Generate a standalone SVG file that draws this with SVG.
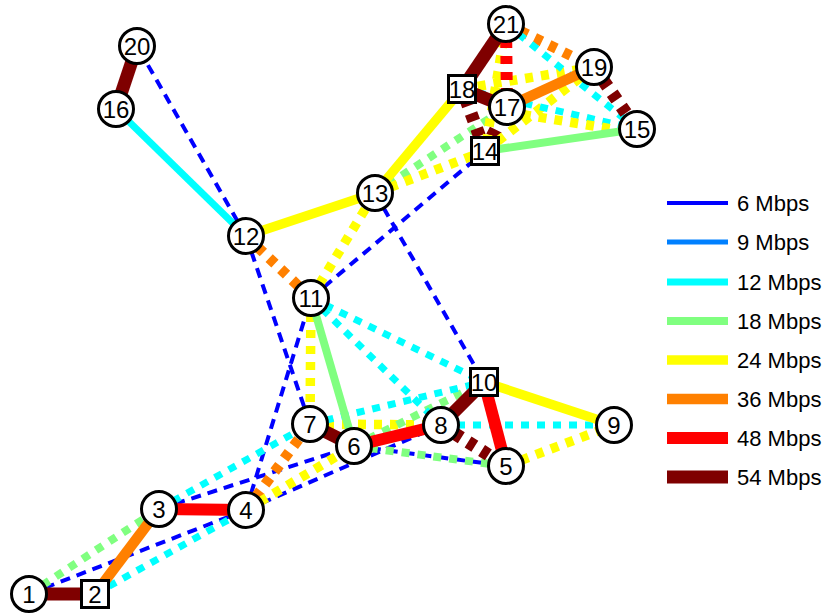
<svg xmlns="http://www.w3.org/2000/svg" width="828" height="613" viewBox="0 0 828 613">
<style>
line{fill:none;stroke-linecap:butt}
.r6{stroke:#0000ff;stroke-width:4}
.r9{stroke:#0080ff;stroke-width:5}
.r12{stroke:#00ffff;stroke-width:7}
.r18{stroke:#80ff80;stroke-width:8}
.r24{stroke:#ffff00;stroke-width:9.5}
.r36{stroke:#ff8000;stroke-width:10.5}
.r48{stroke:#ff0000;stroke-width:12}
.r54{stroke:#7f0000;stroke-width:13}
.dot{stroke-dasharray:8 8}
.dash{stroke-dasharray:10 7}
.node circle{fill:#fff;stroke:#000;stroke-width:3}
.node rect{fill:#fff;stroke:#000;stroke-width:3}
.node text{font-family:"Liberation Sans",Arial,sans-serif;font-size:24px;text-anchor:middle;fill:#000}
.legend text{font-family:"Liberation Sans",Arial,sans-serif;font-size:22px;fill:#000}
</style>
<rect width="828" height="613" fill="#fff"/>
<g id="connectors">
<!-- dashed 6 Mbps -->
<line class="r6 dash" x1="29" y1="594" x2="246" y2="510"/>
<line class="r6 dash" x1="159" y1="509" x2="354" y2="446"/>
<line class="r6 dash" x1="246" y1="510" x2="441" y2="425"/>
<line class="r6 dash" x1="354" y1="446" x2="506" y2="466"/>
<line class="r6 dash" x1="246" y1="510" x2="311" y2="298"/>
<line class="r6 dash" x1="246" y1="236" x2="310" y2="424"/>
<line class="r6 dash" x1="246" y1="236" x2="137" y2="46"/>
<line class="r6 dash" x1="311" y1="298" x2="485" y2="151"/>
<line class="r6 dash" x1="375" y1="193" x2="484" y2="382"/>
<!-- dotted -->
<line class="r18 dot" x1="29" y1="594" x2="159" y2="509"/>
<line class="r12 dot" x1="95" y1="594" x2="246" y2="510"/>
<line class="r12 dot" x1="159" y1="509" x2="310" y2="424"/>
<line class="r36 dot" x1="246" y1="510" x2="310" y2="424"/>
<line class="r24 dot" x1="246" y1="510" x2="354" y2="446"/>
<line class="r24 dot" x1="310" y1="424" x2="441" y2="425"/>
<line class="r18 dot" x1="354" y1="446" x2="484" y2="382"/>
<line class="r18 dot" x1="354" y1="446" x2="506" y2="466"/>
<line class="r12 dot" x1="310" y1="424" x2="484" y2="382"/>
<line class="r12 dot" x1="311" y1="298" x2="484" y2="382"/>
<line class="r12 dot" x1="311" y1="298" x2="441" y2="425"/>
<line class="r24 dot" x1="311" y1="298" x2="310" y2="424"/>
<line class="r12 dot" x1="441" y1="425" x2="614" y2="425"/>
<line class="r54 dot" x1="441" y1="425" x2="506" y2="466"/>
<line class="r24 dot" x1="506" y1="466" x2="614" y2="425"/>
<line class="r36 dot" x1="246" y1="236" x2="311" y2="298"/>
<line class="r24 dot" x1="311" y1="298" x2="375" y2="193"/>
<line class="r18 dot" x1="375" y1="193" x2="507" y2="107"/>
<line class="r24 dot" x1="375" y1="193" x2="485" y2="151"/>
<line class="r54 dot" x1="485" y1="151" x2="462" y2="89"/>
<line class="r54 dot" x1="485" y1="151" x2="507" y2="107"/>
<line class="r24 dot" x1="485" y1="151" x2="594" y2="67"/>
<line class="r24 dot" x1="506" y1="24" x2="485" y2="151"/>
<line class="r24 dot" x1="462" y1="89" x2="594" y2="67"/>
<line class="r12 dot" x1="462" y1="89" x2="637" y2="129"/>
<line class="r24 dot" x1="507" y1="112" x2="637" y2="133"/>
<line class="r48 dot" x1="506" y1="24" x2="507" y2="107"/>
<line class="r36 dot" x1="506" y1="24" x2="594" y2="67"/>
<line class="r12 dot" x1="506" y1="24" x2="637" y2="129"/>
<line class="r54 dot" x1="594" y1="67" x2="637" y2="129"/>
<!-- solid -->
<line class="r54" x1="29" y1="594" x2="95" y2="594"/>
<line class="r36" x1="95" y1="594" x2="159" y2="509"/>
<line class="r48" x1="159" y1="509" x2="246" y2="510"/>
<line class="r54" x1="310" y1="424" x2="354" y2="446"/>
<line class="r48" x1="354" y1="446" x2="441" y2="425"/>
<line class="r54" x1="441" y1="425" x2="484" y2="382"/>
<line class="r48" x1="484" y1="382" x2="506" y2="466"/>
<line class="r24" x1="484" y1="382" x2="614" y2="425"/>
<line class="r18" x1="311" y1="298" x2="354" y2="446"/>
<line class="r24" x1="246" y1="236" x2="375" y2="193"/>
<line class="r12" x1="246" y1="236" x2="116" y2="109"/>
<line class="r54" x1="116" y1="109" x2="137" y2="46"/>
<line class="r24" x1="375" y1="193" x2="462" y2="89"/>
<line class="r54" x1="462" y1="89" x2="506" y2="24"/>
<line class="r54" x1="462" y1="89" x2="507" y2="107"/>
<line class="r36" x1="507" y1="107" x2="594" y2="67"/>
<line class="r18" x1="485" y1="151" x2="637" y2="129"/>
</g>
<g id="n1" class="node"><circle cx="29" cy="594" r="17.5"/><text x="29" y="602.5">1</text></g>
<g id="n2" class="node"><rect x="81.5" y="580.5" width="27" height="27"/><text x="95" y="602.5">2</text></g>
<g id="n3" class="node"><circle cx="159" cy="509" r="17.5"/><text x="159" y="517.5">3</text></g>
<g id="n4" class="node"><circle cx="246" cy="510" r="17.5"/><text x="246" y="518.5">4</text></g>
<g id="n5" class="node"><circle cx="506" cy="466" r="17.5"/><text x="506" y="474.5">5</text></g>
<g id="n6" class="node"><circle cx="354" cy="446" r="17.5"/><text x="354" y="454.5">6</text></g>
<g id="n7" class="node"><circle cx="310" cy="424" r="17.5"/><text x="310" y="432.5">7</text></g>
<g id="n8" class="node"><circle cx="441" cy="425" r="17.5"/><text x="441" y="433.5">8</text></g>
<g id="n9" class="node"><circle cx="614" cy="425" r="17.5"/><text x="614" y="433.5">9</text></g>
<g id="n10" class="node"><rect x="470.5" y="368.5" width="27" height="27"/><text x="484" y="390.5">10</text></g>
<g id="n11" class="node"><circle cx="311" cy="298" r="17.5"/><text x="311" y="306.5">11</text></g>
<g id="n12" class="node"><circle cx="246" cy="236" r="17.5"/><text x="246" y="244.5">12</text></g>
<g id="n13" class="node"><circle cx="375" cy="193" r="17.5"/><text x="375" y="201.5">13</text></g>
<g id="n14" class="node"><rect x="471.5" y="137.5" width="27" height="27"/><text x="485" y="159.5">14</text></g>
<g id="n15" class="node"><circle cx="637" cy="129" r="17.5"/><text x="637" y="137.5">15</text></g>
<g id="n16" class="node"><circle cx="116" cy="109" r="17.5"/><text x="116" y="117.5">16</text></g>
<g id="n17" class="node"><circle cx="507" cy="107" r="17.5"/><text x="507" y="115.5">17</text></g>
<g id="n18" class="node"><rect x="448.5" y="75.5" width="27" height="27"/><text x="462" y="97.5">18</text></g>
<g id="n19" class="node"><circle cx="594" cy="67" r="17.5"/><text x="594" y="75.5">19</text></g>
<g id="n20" class="node"><circle cx="137" cy="46" r="17.5"/><text x="137" y="54.5">20</text></g>
<g id="n21" class="node"><circle cx="506" cy="24" r="17.5"/><text x="506" y="32.5">21</text></g>
<g id="legend" class="legend">
<line class="r6" x1="667" y1="203" x2="728" y2="203"/><text x="737" y="211">6 Mbps</text>
<line class="r9" x1="667" y1="242" x2="728" y2="242"/><text x="737" y="250">9 Mbps</text>
<line class="r12" x1="667" y1="282" x2="728" y2="282"/><text x="737" y="290">12 Mbps</text>
<line class="r18" x1="667" y1="321" x2="728" y2="321"/><text x="737" y="329">18 Mbps</text>
<line class="r24" x1="667" y1="360" x2="728" y2="360"/><text x="737" y="368">24 Mbps</text>
<line class="r36" x1="667" y1="399" x2="728" y2="399"/><text x="737" y="407">36 Mbps</text>
<line class="r48" x1="667" y1="438" x2="728" y2="438"/><text x="737" y="446">48 Mbps</text>
<line class="r54" x1="667" y1="477" x2="728" y2="477"/><text x="737" y="485">54 Mbps</text>
</g>
</svg>
